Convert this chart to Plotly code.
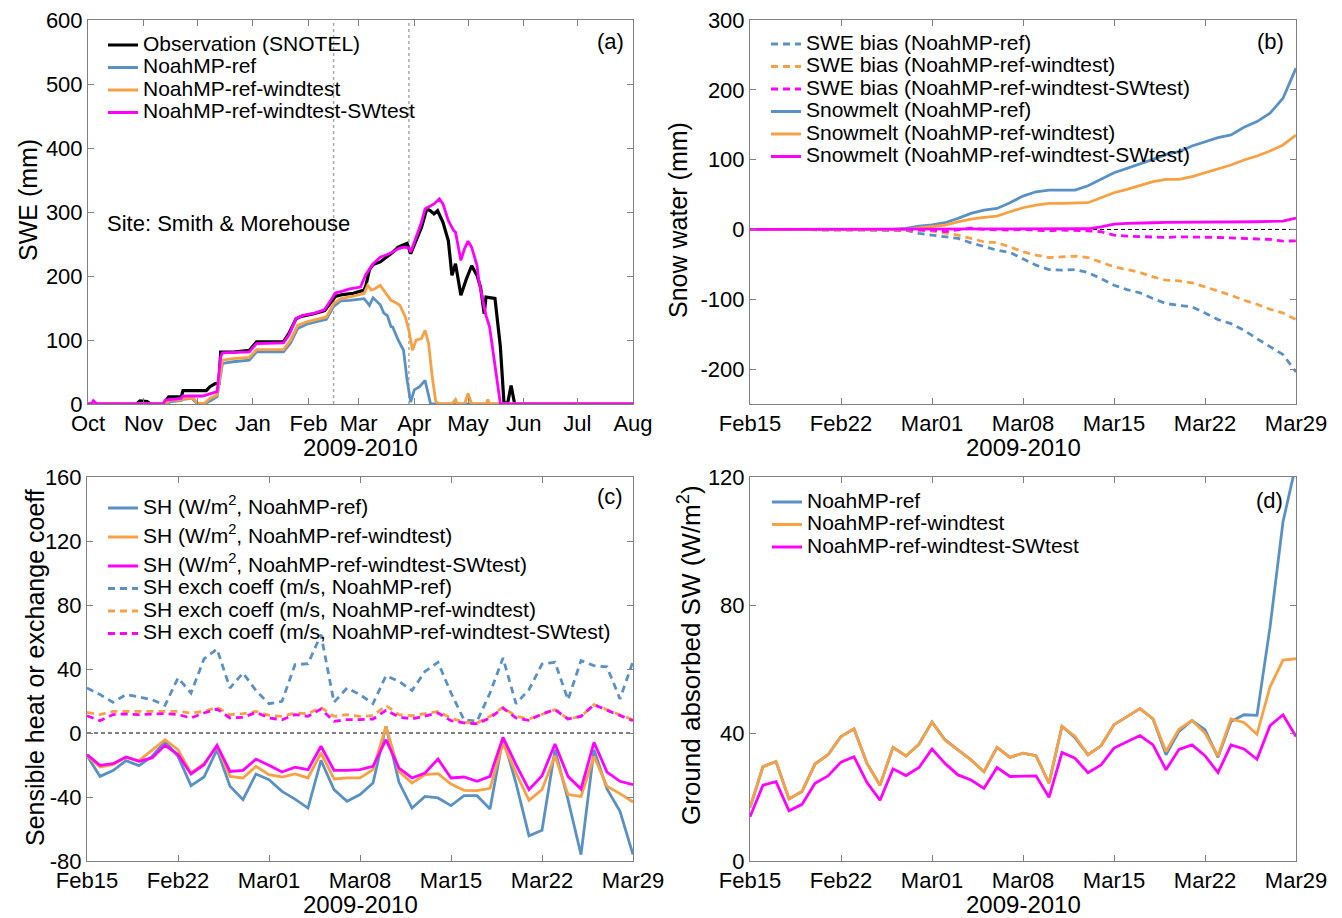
import plotly.graph_objects as go

# ---------------- Panel (a): SWE time series (dates) ----------------
obs_dates = ["2009-10-01","2009-10-28","2009-10-30","2009-11-03","2009-11-05","2009-11-12","2009-11-15",
             "2009-11-22","2009-11-23","2009-12-06","2009-12-08","2009-12-11","2009-12-13","2009-12-14",
             "2009-12-21","2009-12-30","2010-01-03","2010-01-18","2010-01-21","2010-01-25","2010-01-28",
             "2010-02-04","2010-02-10","2010-02-14","2010-02-16","2010-02-20","2010-02-26","2010-03-04",
             "2010-03-05","2010-03-07","2010-03-09","2010-03-13","2010-03-17","2010-03-20","2010-03-23",
             "2010-03-26","2010-03-28","2010-03-30","2010-04-02","2010-04-05","2010-04-08","2010-04-10",
             "2010-04-12","2010-04-14","2010-04-17","2010-04-20","2010-04-22","2010-04-24","2010-04-27",
             "2010-04-30","2010-05-03","2010-05-06","2010-05-08","2010-05-10","2010-05-11","2010-05-16",
             "2010-05-19","2010-05-21","2010-05-23","2010-05-25","2010-05-27","2010-08-01"]
obs_swe = [0,0,5,4,0,0,11,
           11,21,21,27,32,32,81,
           81,84,97,97,110,133,137,
           141,146,162,168,171,173,178,
           185,210,218,222,230,237,245,
           248,251,235,255,276,305,302,
           297,302,284,255,201,219,170,
           195,216,201,182,141,167,165,
           90,3,0,29,0,0]

ref_dates = ["2009-10-01","2009-11-14","2009-11-16","2009-11-22","2009-11-23","2009-11-28","2009-12-01",
             "2009-12-05","2009-12-09","2009-12-12","2009-12-15","2009-12-21","2009-12-30","2010-01-03",
             "2010-01-18","2010-01-22","2010-01-26","2010-01-31","2010-02-05","2010-02-11","2010-02-15",
             "2010-02-19","2010-02-24","2010-03-04","2010-03-07","2010-03-09","2010-03-13","2010-03-15",
             "2010-03-17","2010-03-19","2010-03-20","2010-03-23","2010-03-26","2010-03-28","2010-03-30",
             "2010-04-01","2010-04-04","2010-04-07","2010-04-10","2010-04-11","2010-08-01"]
ref_swe = [0,0,3.6,5.2,7.3,8.8,0,
           0,6.2,11.4,63.3,66,68.5,81.5,
           81.5,95.5,118,124.6,128.2,132.4,152.6,
           161,162,164.6,154,166,155,142,
           138,121,120,100,84,37,3,
           22,27,37,1,0,0]

wind_dates = ["2009-10-01","2009-11-13","2009-11-16","2009-11-22","2009-11-23","2009-11-29","2009-12-01",
              "2009-12-05","2009-12-08","2009-12-12","2009-12-15","2009-12-21","2009-12-30","2010-01-03",
              "2010-01-18","2010-01-22","2010-01-26","2010-01-31","2010-02-05","2010-02-11","2010-02-15",
              "2010-02-19","2010-02-24","2010-03-04","2010-03-06","2010-03-08","2010-03-10","2010-03-13",
              "2010-03-15","2010-03-19","2010-03-21","2010-03-24","2010-03-27","2010-03-29","2010-03-31",
              "2010-04-02","2010-04-05","2010-04-07","2010-04-09","2010-04-11","2010-04-13","2010-04-15",
              "2010-04-22","2010-04-24","2010-04-25","2010-04-29","2010-05-01","2010-05-03","2010-05-11",
              "2010-05-12","2010-05-13","2010-08-01"]
wind_swe = [0,0,6.2,6.2,8.8,8.8,1,
            1,8.8,14,68.5,71,72.7,85,
            85,99.7,123,128.2,131.9,136,156.8,
            164.6,167.2,172.4,185.4,178,180,185.4,
            177.6,162,159.4,154.2,136,115.2,84,
            99.7,102.3,115.2,94.4,42.5,3.6,0,
            0,7,0,0,16.6,0,0,
            7,0,0]

sw_dates = ["2009-10-01","2009-10-03","2009-10-04","2009-10-06","2009-11-12","2009-11-13","2009-11-22",
            "2009-11-23","2009-12-04","2009-12-06","2009-12-09","2009-12-12","2009-12-14","2009-12-15",
            "2009-12-30","2010-01-03","2010-01-18","2010-01-21","2010-01-25","2010-01-29","2010-02-05",
            "2010-02-10","2010-02-14","2010-02-16","2010-02-20","2010-02-24","2010-03-02","2010-03-05",
            "2010-03-09","2010-03-13","2010-03-17","2010-03-20","2010-03-23","2010-03-26","2010-03-29",
            "2010-03-30","2010-04-02","2010-04-05","2010-04-07","2010-04-10","2010-04-12","2010-04-15",
            "2010-04-17","2010-04-20","2010-04-23","2010-04-24","2010-04-25","2010-04-27","2010-04-29",
            "2010-05-01","2010-05-03","2010-05-06","2010-05-07","2010-05-09","2010-05-11","2010-05-13",
            "2010-05-16","2010-05-19","2010-05-20","2010-08-01"]
sw_swe = [0,0,5,0,0,6,8.8,
          12.5,12.5,14,16.6,19.2,73.7,80,
          81.5,94.5,95.5,107.5,133.4,138.6,142.3,
          147.5,164.6,173.4,176.5,180,182.8,202.5,
          219,229.5,233.6,237.3,242.5,245,244,
          237.3,260.6,284,304.8,310,312.6,320.4,
          312.6,286.6,271,268.4,255.5,224.4,242.5,
          254.5,245,216.3,193,167,138.5,120.4,
          63.3,1,0,0]

# ---------------- Daily dates for panels (b)-(d) ----------------
day_dates = ["2010-02-15","2010-02-16","2010-02-17","2010-02-18","2010-02-19","2010-02-20","2010-02-21",
             "2010-02-22","2010-02-23","2010-02-24","2010-02-25","2010-02-26","2010-02-27","2010-02-28",
             "2010-03-01","2010-03-02","2010-03-03","2010-03-04","2010-03-05","2010-03-06","2010-03-07",
             "2010-03-08","2010-03-09","2010-03-10","2010-03-11","2010-03-12","2010-03-13","2010-03-14",
             "2010-03-15","2010-03-16","2010-03-17","2010-03-18","2010-03-19","2010-03-20","2010-03-21",
             "2010-03-22","2010-03-23","2010-03-24","2010-03-25","2010-03-26","2010-03-27","2010-03-28",
             "2010-03-29"]

# Panel (b)
bias_ref = [0,0,0,0,0,0,0,0,0,0,0,0,
            -1,-5.7,-8.1,-9.6,-12.9,-19.1,-24.9,-29.7,-33,-41.6,
            -51.2,-57.4,-58.3,-57.4,-61.7,-70.3,-79.9,-86.1,-90.9,-99,
            -106.2,-108.6,-111,-119.6,-129.1,-134.9,-144.4,-156.4,-167.4,-179.3,-204.2]
bias_wind = [0,0,0,0,0,0,0,0,0,0,0,0,0,
             -1,-2.4,-4.8,-8.1,-12.9,-17.7,-19.1,-24.9,-32,-36.8,
             -40.2,-39.2,-38.3,-40.2,-46.4,-53.6,-57.4,-61.7,-67.9,-72.7,
             -73.6,-76.5,-82.3,-88,-94.2,-101.4,-107.1,-114.3,-119.6,-129.1]
bias_sw = [0,0,0,0,0,0,0,0,0,0,0,0,0,0,
           -1,-3,0,2,0,-1,-1,0,-1,-2,-1,-1,-2,-3.3,-8.1,-9.6,-10.5,-10.5,-11.5,
           -10.5,-10.5,-10.5,-11.5,-12,-12.9,-12.9,-14.3,-16.7,-16.3]
melt_ref = [0,0,0,0,0,0,0,0,0,0,0,0,
            1.4,4.8,6.7,9.6,15.8,23,27.7,30.1,38.3,47.8,
            54,56.4,56.4,56.4,62.6,71.7,81.3,87.5,93.7,100.4,
            107.6,111.4,119.6,125.8,131.5,135.3,146.3,154.5,166.4,187.9,231]
melt_wind = [0,0,0,0,0,0,0,0,0,0,0,0,0,
             2.4,3.8,6.2,11,14.8,17.2,19.1,25.3,31.1,34.9,
             37.3,37.3,37.3,38.3,45.4,52.6,57.4,62.6,68.4,71.7,
             71.7,75.6,81.3,86.1,92.3,99.5,105.2,112.4,121,135.3]
melt_sw = [0,0,0,0,0,0,0,0,0,0,0,0,0,0,0,0,0,0,0,0,0,0,0,0,0,0,
           1,3.8,7.7,8.6,8.6,9.6,10,10,10,10,10,10,10,11,11.5,12,16.3]

# Panel (c)
sh_ref = [-14.2,-27.1,-23.5,-17.3,-20.4,-14.6,-5.2,-14.6,-32.9,-27.5,-10.4,-33.3,-41.7,-25.6,
          -29.2,-36.5,-41.3,-46.9,-17.1,-35.4,-42.7,-38.5,-31.3,4.2,-30.8,-46.9,-39.6,-40.6,
          -45.4,-39.2,-39.2,-47.5,-3.1,-31.3,-64.2,-60.8,-10.4,-41.7,-76,-10.4,-35,-49,-76]
sh_wind = [-14.2,-21.3,-19.8,-15.2,-17.3,-10.8,-4.2,-10.4,-25,-19.2,-8.3,-27.1,-28.1,-20.8,
           -26,-27.5,-25.6,-28.1,-12.5,-28.7,-28.1,-28.1,-22.9,4.2,-24,-31.3,-26,-25.4,
           -31.9,-35.8,-36,-34.6,-6.3,-25,-42.1,-35.4,-14.2,-38.5,-39.6,-14.6,-33.3,-37.9,-43.1]
sh_sw = [-13.5,-20.2,-19.2,-15,-17.7,-15.6,-7.7,-13.5,-25.6,-19.8,-7.7,-24,-23.3,-16.3,
         -20.2,-24.4,-21.3,-22.9,-8.3,-23.3,-23.3,-22.9,-20.8,-4.2,-21.9,-28.1,-25,-16.3,
         -28.1,-27.5,-30.2,-27.1,-2.7,-19.8,-35.4,-26.7,-6.9,-27.1,-35,-5.8,-24.4,-30.2,-32.3]
ex_ref = [28.1,24,19.2,24,22.5,20.8,17.3,34.4,25,46.3,52.5,28.1,37.5,26.5,
          18.3,19.8,42.7,43.3,61.5,19.2,28.1,24,18.3,35.8,32.3,26.5,38.5,44.2,
          25,8.3,7.3,25,46.9,18.3,27.1,43.1,44.2,20.8,45.2,42.1,41.3,21.3,44.8]
ex_wind = [12.9,11.5,13.5,13.5,13.5,13.5,13.5,13.5,12.5,13.5,16,11.5,12.1,13.5,
           11,10.4,12.5,12.1,16,10.4,11.5,10.4,10.8,17.1,11.5,10.8,12.1,13.5,
           9.4,6.7,6.3,10.4,16,10.4,8.75,11.9,14.6,8.75,10.4,17.7,14.6,11.5,8.3]
ex_sw = [10.8,7.7,11.5,11.9,11.5,11.9,12.1,11.5,9.4,12.5,15,9.4,9.8,12.9,
         9.4,8.3,11.5,10.4,15,7.3,8.3,8.3,8.75,14.2,10,8.75,10.4,12.5,
         7.7,6.3,5.8,9.4,15.6,9.4,7.9,11.9,14.6,8.75,10.4,17.7,14.2,10.8,7.7]

# Panel (d)
gsw_ref = [16.7,29.5,31.1,19.4,21.7,30.3,33.2,38.9,41.3,30.5,23.7,35.5,32.8,36.5,
           43.4,37.9,34.7,31.6,27.9,35.5,32.4,33.7,32.9,24.3,42.1,38.5,33.2,36,
           42.6,45.2,47.6,44.4,33.2,40.5,43.9,41,32.4,43.6,45.7,45.5,73,106,124]
gsw_wind = [16.7,29.5,31.1,19.4,21.7,30.3,33.2,38.9,41.3,30.5,23.7,35.5,32.8,36.5,
            43.4,37.7,34.7,31.6,27.9,35.5,32.4,33.7,32.9,24.3,42.1,38.9,33.2,36,
            42.6,45.2,47.6,44.4,34.2,41.2,43.9,40,32.8,44.4,43.3,39.6,54.4,62.8,63.2]
gsw_sw = [13.8,23.7,24.8,15.7,17.7,24.3,26.6,30.9,32.6,24.5,19.0,28.8,26.7,29.2,
          35.0,30.5,26.9,25.3,22.7,29.2,26.4,26.4,26.6,19.9,33.9,32.1,27.6,30.0,
          35.3,37.3,39.2,36.3,28.5,34.9,36.3,32.9,27.6,36.3,35.0,31.8,42.3,45.7,38.9]

# ---------------- Styling ----------------
BLACK = "#000000"
BLUE = "#5a91c5"
ORANGE = "#f7a044"
MAGENTA = "#ff00ff"
DASH = "7px,5px"
FONT = "Liberation Sans, Arial, Helvetica, sans-serif"
LEG_TXT = 21


def lname(s):
    return '<span style="font-size:%dpx">%s</span>' % (LEG_TXT, s)


fig = go.Figure()


def add(x, y, name, color, ax, leg, dash=None, width=2.8, group=None):
    fig.add_trace(go.Scatter(
        x=x, y=y, mode="lines", name=lname(name),
        line=dict(color=color, width=width, dash=dash),
        xaxis="x" + ax, yaxis="y" + ax, legend=leg,
        legendgroup=group, hoverinfo="skip"))


# (a)
add(obs_dates, obs_swe, "Observation (SNOTEL)", BLACK, "", "legend", width=3.2)
add(ref_dates, ref_swe, "NoahMP-ref", BLUE, "", "legend")
add(wind_dates, wind_swe, "NoahMP-ref-windtest", ORANGE, "", "legend")
add(sw_dates, sw_swe, "NoahMP-ref-windtest-SWtest", MAGENTA, "", "legend")

# (b)
add(day_dates, bias_ref, "SWE bias (NoahMP-ref)", BLUE, "2", "legend2", dash=DASH)
add(day_dates, bias_wind, "SWE bias (NoahMP-ref-windtest)", ORANGE, "2", "legend2", dash=DASH)
add(day_dates, bias_sw, "SWE bias (NoahMP-ref-windtest-SWtest)", MAGENTA, "2", "legend2", dash=DASH)
add(day_dates, melt_ref, "Snowmelt (NoahMP-ref)", BLUE, "2", "legend2")
add(day_dates, melt_wind, "Snowmelt (NoahMP-ref-windtest)", ORANGE, "2", "legend2")
add(day_dates, melt_sw, "Snowmelt (NoahMP-ref-windtest-SWtest)", MAGENTA, "2", "legend2")

# (c)
add(day_dates, sh_ref, "SH (W/m<sup>2</sup>, NoahMP-ref)", BLUE, "3", "legend3", group="g1")
add(day_dates, sh_wind, "SH (W/m<sup>2</sup>, NoahMP-ref-windtest)", ORANGE, "3", "legend3", group="g2")
add(day_dates, sh_sw, "SH (W/m<sup>2</sup>, NoahMP-ref-windtest-SWtest)", MAGENTA, "3", "legend3", group="g3")
add(day_dates, ex_ref, "SH exch coeff (m/s, NoahMP-ref)", BLUE, "3", "legend3", dash=DASH, group="g3")
add(day_dates, ex_wind, "SH exch coeff (m/s, NoahMP-ref-windtest)", ORANGE, "3", "legend3", dash=DASH, group="g3")
add(day_dates, ex_sw, "SH exch coeff (m/s, NoahMP-ref-windtest-SWtest)", MAGENTA, "3", "legend3", dash=DASH, group="g3")

# (d)
add(day_dates, gsw_ref, "NoahMP-ref", BLUE, "4", "legend4")
add(day_dates, gsw_wind, "NoahMP-ref-windtest", ORANGE, "4", "legend4")
add(day_dates, gsw_sw, "NoahMP-ref-windtest-SWtest", MAGENTA, "4", "legend4")

W, H, OFF = 1334, 910, 8


def px(X):
    return (X - OFF) / W


def py(Y):
    return 1 - (Y - OFF) / H


XA = [px(88), px(633)]
XB = [px(750), px(1296)]
YT = [py(404), py(20)]
YB = [py(861), py(477)]

AXC = "#808080"
common = dict(showline=True, linecolor=AXC, linewidth=1, mirror="ticks", ticks="inside",
              ticklen=6, tickcolor=AXC, showgrid=False, zeroline=False, automargin=False,
              ticklabeloverflow="allow",
              tickfont=dict(size=22, color="black", family=FONT))
DAY_MS = 86400000

date_b = dict(type="date", range=["2010-02-15", "2010-03-29"], tick0="2010-02-15",
              dtick=7 * DAY_MS, tickformat="%b%d")

legend_common = dict(bgcolor="rgba(0,0,0,0)", borderwidth=0, xanchor="left", yanchor="top",
                     font=dict(size=15, family=FONT, color="black"), itemwidth=30,
                     tracegroupgap=0)

fig.update_layout(
    width=W, height=H, margin=dict(l=0, r=0, t=0, b=0, pad=0, autoexpand=False),
    paper_bgcolor="white", plot_bgcolor="white",
    font=dict(family=FONT, color="black"),
    showlegend=True,
    xaxis=dict(domain=XA, anchor="y", type="date", range=["2009-10-01", "2010-08-01"],
               tick0="2009-10-01", dtick="M1", tickformat="%b", **common),
    yaxis=dict(domain=YT, anchor="x", range=[0, 600], dtick=100, **common),
    xaxis2=dict(domain=XB, anchor="y2", **date_b, **common),
    yaxis2=dict(domain=YT, anchor="x2", range=[-250, 300],
                tickvals=[-200, -100, 0, 100, 200, 300],
                ticktext=["-200", "-100", "0", "100", "200", "300"], **common),
    xaxis3=dict(domain=[px(87), px(633)], anchor="y3", **date_b, **common),
    yaxis3=dict(domain=YB, anchor="x3", range=[-80, 160],
                tickvals=[-80, -40, 0, 40, 80, 120, 160],
                ticktext=["-80", "-40", "0", "40", "80", "120", "160"], **common),
    xaxis4=dict(domain=XB, anchor="y4", **date_b, **common),
    yaxis4=dict(domain=YB, anchor="x4", range=[0, 120], dtick=40, **common),
    legend=dict(x=px(103), y=py(28.75), **legend_common),
    legend2=dict(x=px(766), y=py(27.75), **legend_common),
    legend3=dict(x=px(103), y=py(491.75), **{**legend_common, "tracegroupgap": 6.5}),
    legend4=dict(x=px(767), y=py(485.75), **legend_common),
)

# axis titles (placed like the reference)
for text, X, Y, ang, fs in [("2009-2010", 360, 447, 0, 24), ("2009-2010", 1023, 447, 0, 24),
                            ("2009-2010", 360, 904, 0, 24), ("2009-2010", 1023, 904, 0, 24),
                            ("SWE (mm)", 28, 200, -90, 25), ("Snow water (mm)", 678, 220, -90, 25),
                            ("Sensible heat or exchange coeff", 35, 668, -90, 25),
                            ("Ground absorbed SW (W/m<sup>2</sup>)", 689, 655, -90, 26)]:
    fig.add_annotation(text=text, xref="paper", yref="paper", x=px(X), y=py(Y),
                       showarrow=False, xanchor="center", yanchor="middle", textangle=ang,
                       font=dict(size=fs, color="black", family=FONT))

# reference lines
for d in ["2010-02-15", "2010-03-29"]:
    fig.add_shape(type="line", xref="x", yref="y domain", x0=d, x1=d, y0=0, y1=1,
                  line=dict(color="#a8a8a8", width=1.5, dash="dot"), layer="below")
for ax in ["2", "3"]:
    fig.add_shape(type="line", xref="x%s domain" % ax, yref="y" + ax, x0=0, x1=1, y0=0, y1=0,
                  line=dict(color="black", width=1, dash="4px,3px"), layer="below")

# panel labels
ann_font = dict(size=22, color="black", family=FONT)
for ax, lab, xd, yd in [("", "(a)", 0.958, 0.943), ("2", "(b)", 0.954, 0.943),
                        ("3", "(c)", 0.958, 0.948), ("4", "(d)", 0.952, 0.940)]:
    fig.add_annotation(text=lab, xref="x%s domain" % ax, yref="y%s domain" % ax,
                       x=xd, y=yd, showarrow=False, xanchor="center", yanchor="middle", font=ann_font)
fig.add_annotation(text="Site: Smith & Morehouse", xref="x domain", yref="y domain",
                   x=0.031, y=0.469, showarrow=False, xanchor="left", yanchor="middle",
                   font=dict(size=22, color="black", family=FONT))

fig.write_html("out.html")
